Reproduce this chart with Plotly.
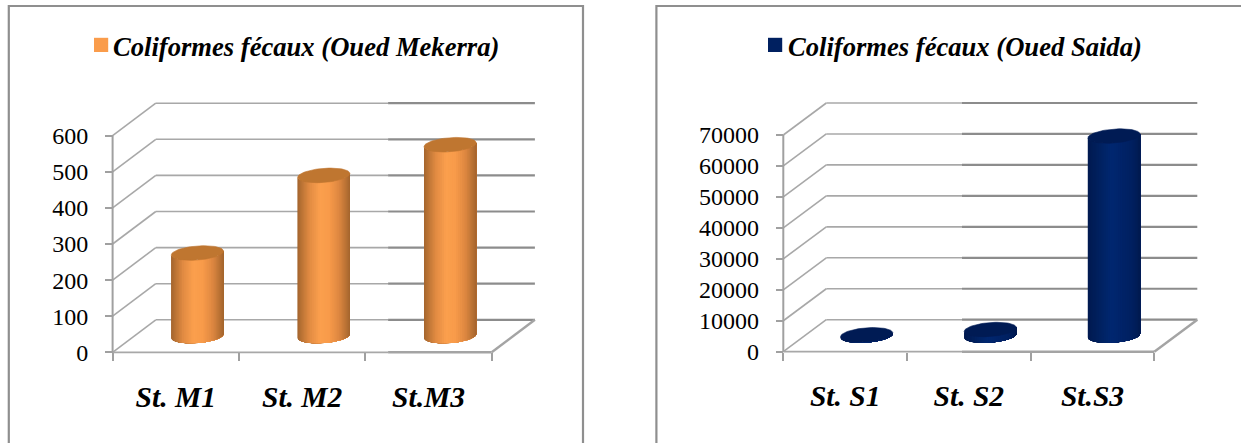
import numpy as np
import plotly.graph_objects as go

# Station counts of faecal coliforms
stations_mekerra = ["St. M1", "St. M2", "St.M3"]
coliformes_mekerra = [230, 445, 530]
ticks_mekerra = [0, 100, 200, 300, 400, 500, 600]

stations_saida = ["St. S1", "St. S2", "St.S3"]
coliformes_saida = [300, 2000, 64500]
ticks_saida = [0, 10000, 20000, 30000, 40000, 50000, 60000, 70000]

W, H = 1241, 443
GRID_LIGHT = "#a8a8a8"
GRID_DARK = "#8c8c8c"
AXIS = "#a0a0a0"
FRAME = "#8f8f8f"

ORANGE_STOPS = [(0, "#a4652e"), (0.07, "#b87234"), (0.22, "#e08a42"), (0.42, "#fb9f4d"),
                (0.6, "#f89b4a"), (0.8, "#dc8640"), (0.93, "#b87134"), (1, "#a4652e")]
NAVY_STOPS = [(0, "#001a50"), (0.2, "#00205e"), (0.45, "#002770"), (0.6, "#00246a"),
              (0.85, "#002060"), (1, "#001a50")]


def shade(stops, s):
    """Interpolate a colour along a list of (position, hex) stops."""
    pos = [p for p, _ in stops]
    rgb = [[int(c[i:i + 2], 16) for i in (1, 3, 5)] for _, c in stops]
    vals = [float(np.interp(s, pos, [row[k] for row in rgb])) for k in range(3)]
    return "rgb(%d,%d,%d)" % tuple(round(v) for v in vals)


def add_chart(fig, n, cfg):
    """Draw one oblique cylinder chart on axis pair n."""
    xs = "" if n == 1 else str(n)
    xref, yref = "x" + xs, "y" + xs
    ticks = cfg["ticks"]
    vmax = ticks[-1]
    left, right_front, zero_px, top_px = cfg["left"], cfg["right"], cfg["zero"], cfg["top"]
    cat_px = (right_front - left) / 3
    val_px = (zero_px - top_px) / vmax
    # the depth direction expressed in axis units
    depth_x = cfg["dx"] / cat_px
    depth_y = cfg["dy"] / val_px

    def line(xv, yv, color, width):
        fig.add_trace(go.Scatter(x=xv, y=yv, mode="lines", xaxis=xref, yaxis=yref,
                                 line=dict(color=color, width=width), hoverinfo="skip",
                                 showlegend=False))

    # side wall and back wall gridlines
    split = cfg["split"]
    for v in ticks:
        line([0, depth_x], [v, v + depth_y], GRID_LIGHT, 1.6)
        line([depth_x, split], [v + depth_y] * 2, GRID_LIGHT, 1.6)
        line([split, 3 + depth_x], [v + depth_y] * 2, GRID_DARK, 2.2)

    # value axis and floor outline
    line([0, 0], [0, vmax], AXIS, 2)
    line([0, split], [0, 0], GRID_LIGHT, 1.8)
    line([split, 3], [0, 0], "#a4a4a4", 2.4)
    line([3, 3 + depth_x], [0, depth_y], "#a4a4a4", 2.4)

    # cylinders: the body is painted left to right in shrinking layers,
    # each one a step further across the shading, so no seams show
    rx = 25.2 / cat_px
    for i, value in enumerate(cfg["values"]):
        cx = i + 0.5 + 0.5 * depth_x
        cy = 0.5 * depth_y
        dx_e, dy_e = 0.16 * depth_x, 0.225 * depth_y
        t0 = np.arctan2(dx_e, rx)
        ts = np.linspace(t0 - np.pi, t0, 41)
        px = cx + rx * np.cos(ts) + dx_e * np.sin(ts)
        py = cy + dy_e * np.sin(ts)
        span = px.max() - px.min()
        for j in range(len(ts) - 1):
            s = (0.5 * (px[j] + px[j + 1]) - px.min()) / span
            color = shade(cfg["stops"], s)
            fig.add_trace(go.Scatter(
                x=np.concatenate([px[j:], px[j:][::-1], px[j:j + 1]]),
                y=np.concatenate([py[j:], (py[j:] + value)[::-1], py[j:j + 1]]),
                mode="lines", fill="toself", fillcolor=color, xaxis=xref, yaxis=yref,
                line=dict(width=0), hoverinfo="skip", showlegend=False))
        tt = np.linspace(0, 2 * np.pi, 73)
        fig.add_trace(go.Scatter(
            x=cx + rx * np.cos(tt) + dx_e * np.sin(tt),
            y=cy + value + dy_e * np.sin(tt),
            mode="lines", fill="toself", fillcolor=cfg["cap"], xaxis=xref, yaxis=yref,
            line=dict(color=cfg["cap"], width=0.6), hoverinfo="skip", showlegend=False))

    pad = 4
    tick_font = dict(family="Liberation Serif", size=24, color="#000000")
    cat_font = dict(family="Liberation Serif", size=cfg["cat_size"], color="#000000",
                    style="italic", weight="bold")
    x_lo = -pad / cat_px
    x_hi = 3 + depth_x + pad / cat_px
    y_lo = -pad / val_px
    y_hi = vmax + depth_y + pad / val_px
    fig.layout["xaxis" + xs] = dict(
        domain=[(left - pad) / W, (right_front + cfg["dx"] + pad) / W], range=[x_lo, x_hi],
        anchor="free", position=(H - zero_px) / H, showgrid=False, zeroline=False,
        showline=False, automargin=False, tickmode="array", tickvals=[0.5, 1.5, 2.5],
        ticktext=cfg["cats"], ticks="", tickfont=cat_font, ticklabelstandoff=cfg["cat_standoff"],
        minor=dict(tickmode="array", tickvals=[0, 1, 2, 3], ticks="outside", ticklen=8,
                   tickwidth=2, tickcolor=AXIS, showgrid=False))
    fig.layout["yaxis" + xs] = dict(
        domain=[(H - zero_px - pad) / H, (H - top_px + cfg["dy"] + pad) / H], range=[y_lo, y_hi],
        anchor="free", position=left / W, showgrid=False, zeroline=False, showline=False,
        automargin=False, tickmode="array", tickvals=ticks, ticktext=[str(t) for t in ticks],
        ticks="outside", ticklen=7.5, tickwidth=2, tickcolor=AXIS, tickfont=tick_font,
        ticklabelstandoff=cfg["y_standoff"])

    # legend key and its label
    fig.add_shape(type="rect", xref="paper", yref="paper", line=dict(width=0),
                  fillcolor=cfg["swatch"], x0=cfg["key_x"] / W, x1=(cfg["key_x"] + 14.2) / W,
                  y0=(H - 52) / H, y1=(H - 37.8) / H)
    fig.add_annotation(text=cfg["name"], xref="paper", yref="paper", showarrow=False,
                       x=cfg["label_x"] / W, xanchor="left", y=(H - 47) / H, yanchor="middle",
                       borderpad=0,
                       font=dict(family="Liberation Serif", size=26.6, color="#000000",
                                 style="italic", weight="bold"))


fig = go.Figure()
add_chart(fig, 1, dict(
    values=coliformes_mekerra, cats=stations_mekerra, ticks=ticks_mekerra,
    name="Coliformes fécaux (Oued Mekerra)", swatch="#fa9c4b", stops=ORANGE_STOPS, cap="#bf7630",
    left=112.6, right=491.7, zero=352.3, top=135.7, dx=43.2, dy=32.5, split=2.18,
    cat_size=29.5, cat_standoff=24, y_standoff=12, key_x=94, label_x=112))
add_chart(fig, 2, dict(
    values=coliformes_saida, cats=stations_saida, ticks=ticks_saida,
    name="Coliformes fécaux (Oued Saida)", swatch="#002060", stops=NAVY_STOPS, cap="#001b54",
    left=783.3, right=1154.3, zero=351.7, top=135.0, dx=43.0, dy=32.0, split=1.445,
    cat_size=29.5, cat_standoff=24, y_standoff=12, key_x=768, label_x=787))

# open-bottomed chart frames running off the page
frame_paths = [
    "M %f %f L %f %f L %f %f L %f %f" % (8.8 / W, 0, 8.8 / W, (H - 6) / H, 583 / W, (H - 6) / H, 583 / W, 0),
    "M %f %f L %f %f L %f %f" % (656.4 / W, 0, 656.4 / W, (H - 6) / H, 1, (H - 6) / H),
]
for p in frame_paths:
    fig.add_shape(type="path", path=p, xref="paper", yref="paper",
                  line=dict(color=FRAME, width=2.2))
fig.update_layout(
    width=W, height=H, margin=dict(l=0, r=0, t=0, b=0), autosize=False, showlegend=False,
    paper_bgcolor="white", plot_bgcolor="rgba(0,0,0,0)",
)
fig.write_html("out.html", config={"displayModeBar": False})
